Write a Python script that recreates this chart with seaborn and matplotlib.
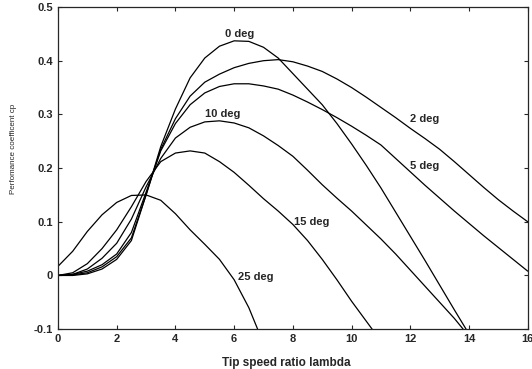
import matplotlib
matplotlib.use("Agg")
from matplotlib import pyplot as plt
import numpy as np
import pandas as pd
import seaborn as sns

# Cp-lambda curves
lam_0 = [0, 0.5, 1.0, 1.5, 2.0, 2.5, 3.0, 3.5, 4.0, 4.5, 5.0, 5.5, 6.0, 6.5, 7.0, 7.5, 8.0, 8.5, 9.0, 9.5,
         10.0, 10.5, 11.0, 11.5, 12.0, 12.5, 13.0, 13.5, 13.9]
cp_0 = [0, 0.0, 0.003, 0.012, 0.03, 0.065, 0.15, 0.24, 0.31, 0.368, 0.405, 0.427, 0.437, 0.436, 0.425, 0.405,
        0.376, 0.347, 0.318, 0.283, 0.245, 0.205, 0.163, 0.118, 0.073, 0.028, -0.018, -0.064, -0.10]

lam_2 = [0, 0.5, 1.0, 1.5, 2.0, 2.5, 3.0, 3.5, 4.0, 4.5, 5.0, 5.5, 6.0, 6.5, 7.0, 7.5, 8.0, 8.5, 9.0, 9.5,
         10.0, 10.5, 11.0, 11.5, 12.0, 12.5, 13.0, 13.5, 14.0, 14.5, 15.0, 15.5, 16.0]
cp_2 = [0, 0.001, 0.005, 0.016, 0.035, 0.07, 0.15, 0.235, 0.292, 0.334, 0.36, 0.375, 0.387, 0.395, 0.40, 0.402,
        0.398, 0.39, 0.38, 0.366, 0.35, 0.332, 0.313, 0.294, 0.274, 0.255, 0.235, 0.212, 0.188, 0.164, 0.141,
        0.12, 0.10]

lam_5 = [0, 0.5, 1.0, 1.5, 2.0, 2.5, 3.0, 3.5, 4.0, 4.5, 5.0, 5.5, 6.0, 6.5, 7.0, 7.5, 8.0, 8.5, 9.0, 9.5,
         10.0, 10.5, 11.0, 11.5, 12.0, 12.5, 13.0, 13.5, 14.0, 14.5, 15.0, 15.5, 16.0]
cp_5 = [0, 0.002, 0.008, 0.02, 0.04, 0.08, 0.155, 0.232, 0.283, 0.318, 0.34, 0.352, 0.357, 0.357, 0.353,
        0.347, 0.336, 0.323, 0.309, 0.294, 0.278, 0.261, 0.243, 0.218, 0.193, 0.168, 0.144, 0.12, 0.097, 0.074,
        0.052, 0.03, 0.008]

lam_10 = [0, 0.5, 1.0, 1.5, 2.0, 2.5, 3.0, 3.5, 4.0, 4.5, 5.0, 5.5, 6.0, 6.5, 7.0, 7.5, 8.0, 8.5, 9.0, 9.5,
          10.0, 10.5, 11.0, 11.5, 12.0, 12.5, 13.0, 13.5, 13.8]
cp_10 = [0, 0.002, 0.012, 0.032, 0.06, 0.105, 0.165, 0.218, 0.256, 0.276, 0.286, 0.288, 0.284, 0.275, 0.26,
         0.242, 0.222, 0.196, 0.169, 0.144, 0.12, 0.094, 0.068, 0.04, 0.01, -0.02, -0.05, -0.08, -0.10]

lam_15 = [0, 0.5, 1.0, 1.5, 2.0, 2.5, 3.0, 3.5, 4.0, 4.5, 5.0, 5.5, 6.0, 6.5, 7.0, 7.5, 8.0, 8.5, 9.0, 9.5,
          10.0, 10.7]
cp_15 = [0, 0.005, 0.022, 0.05, 0.085, 0.128, 0.175, 0.212, 0.228, 0.232, 0.228, 0.212, 0.192, 0.168, 0.143,
         0.12, 0.095, 0.065, 0.03, -0.008, -0.048, -0.10]

lam_25 = [0, 0.5, 1.0, 1.5, 2.0, 2.5, 3.0, 3.5, 4.0, 4.5, 5.0, 5.5, 6.0, 6.5, 6.8]
cp_25 = [0.017, 0.045, 0.082, 0.113, 0.136, 0.149, 0.150, 0.140, 0.115, 0.085, 0.058, 0.030, -0.008, -0.060,
         -0.10]

pitch_labels = ["0 deg", "2 deg", "5 deg", "10 deg", "15 deg", "25 deg"]
label_x = [6.2, 12.5, 12.5, 5.6, 8.65, 6.75]
label_y = [0.449, 0.292, 0.203, 0.30, 0.10, -0.002]

frames = []
for name, lam, cp in zip(pitch_labels, [lam_0, lam_2, lam_5, lam_10, lam_15, lam_25],
                         [cp_0, cp_2, cp_5, cp_10, cp_15, cp_25]):
    frames.append(pd.DataFrame({"lambda": lam, "cp": cp, "pitch": name}))
df = pd.concat(frames, ignore_index=True)

sns.set_style("ticks")
plt.rcParams["font.family"] = ["Liberation Sans", "DejaVu Sans"]

fig = plt.figure(figsize=(5.32, 3.69), dpi=100)
ax = fig.add_axes([0.109, 0.108, 0.883, 0.873])

sns.lineplot(data=df, x="lambda", y="cp", units="pitch", estimator=None, color="black",
             linewidth=0.9, sort=False, legend=False, ax=ax)

for txt, lx, ly in zip(pitch_labels, label_x, label_y):
    ax.text(lx, ly, txt, fontsize=8, fontweight="bold", ha="center", va="center")

ax.set_xlim(0, 16)
ax.set_ylim(-0.1, 0.5)
ax.set_xticks(np.arange(0, 17, 2))
ax.set_yticks([-0.1, 0, 0.1, 0.2, 0.3, 0.4, 0.5])
ax.set_yticklabels(["-0.1", "0", "0.1", "0.2", "0.3", "0.4", "0.5"])
ax.tick_params(direction="in", top=True, right=True, length=3, width=0.8, labelsize=8)
for lab in ax.get_xticklabels() + ax.get_yticklabels():
    lab.set_fontweight("bold")
for sp in ax.spines.values():
    sp.set_linewidth(0.9)

ax.set_xlabel("Tip speed ratio lambda", fontsize=8.5, fontweight="bold")
ax.set_ylabel("Perfomance coefficent cp", fontsize=5.8, fontweight="normal")
ax.xaxis.set_label_coords(0.487, -0.087)
ax.yaxis.set_label_coords(-0.087, 0.56)

plt.savefig("out.png", dpi=100)
plt.close()
